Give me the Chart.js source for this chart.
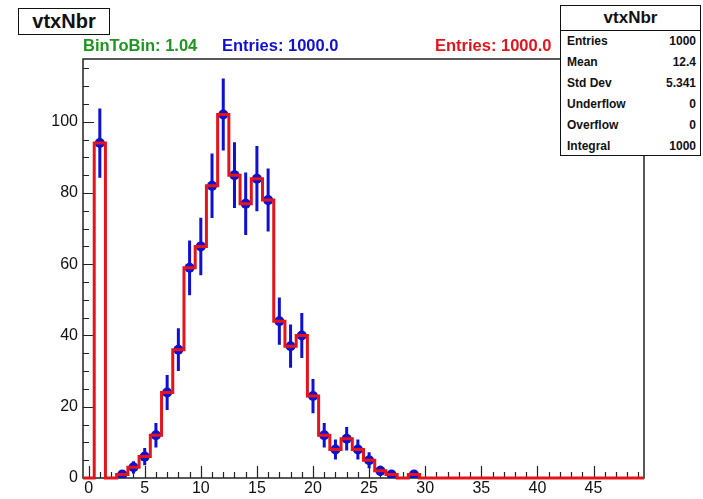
<!DOCTYPE html>
<html>
<head>
<meta charset="utf-8">
<title>vtxNbr</title>
<script src="https://cdn.jsdelivr.net/npm/chart.js@4.4.1/dist/chart.umd.min.js"></script>
<style>
  html, body { margin: 0; padding: 0; background: #fff; }
  #wrap { position: relative; width: 703px; height: 499px; font-family: "Liberation Sans", Arial, sans-serif; color: #111; }
  #chart { position: absolute; left: 0; top: 0; }
  .lbl { position: absolute; top: 37px; font-weight: bold; font-size: 16.5px; line-height: 17px; white-space: nowrap; }
  #title { position: absolute; left: 18px; top: 8px; width: 90px; height: 25px; border: 1.5px solid #111; background: #fff;
           font-weight: bold; font-size: 20px; line-height: 25px; text-align: center; }
  #stats { position: absolute; left: 560px; top: 5px; width: 139px; height: 149px; border: 1.5px solid #111; background: #fff; }
  #stats .head { height: 24px; line-height: 24px; text-align: center; font-weight: bold; font-size: 17px; border-bottom: 1px solid #111; }
  #stats .row { height: 21px; line-height: 21px; font-weight: bold; font-size: 12px; display: flex; justify-content: space-between; padding: 0 4px 0 6px; }
</style>
</head>
<body>
<div id="wrap">
  <canvas id="chart" width="703" height="499"></canvas>
  <div id="title">vtxNbr</div>
  <div class="lbl" style="left:83px;color:#1f961f">BinToBin: 1.04</div>
  <div class="lbl" style="left:222px;color:#1010d0">Entries: 1000.0</div>
  <div class="lbl" style="left:435px;color:#e3141c">Entries: 1000.0</div>
  <div id="stats">
    <div class="head">vtxNbr</div>
    <div class="row"><span>Entries</span><span>1000</span></div>
    <div class="row"><span>Mean</span><span>12.4</span></div>
    <div class="row"><span>Std Dev</span><span>5.341</span></div>
    <div class="row"><span>Underflow</span><span>0</span></div>
    <div class="row"><span>Overflow</span><span>0</span></div>
    <div class="row"><span>Integral</span><span>1000</span></div>
  </div>
</div>
<script>
// histogram bins (centers) and counts
const binCenters = [0, 1, 2, 3, 4, 5, 6, 7, 8, 9, 10, 11, 12, 13, 14, 15, 16, 17, 18, 19,
                    20, 21, 22, 23, 24, 25, 26, 27, 28, 29, 30, 31, 32, 33, 34, 35, 36, 37, 38, 39,
                    40, 41, 42, 43, 44, 45, 46, 47, 48, 49];
const counts = [0, 94, 0, 1, 3, 6, 12, 24, 36, 59, 65, 82, 102, 85, 77, 84, 78, 44, 37, 40,
                23, 12, 8, 11, 8, 5, 2, 1, 0, 1, 0, 0, 0, 0, 0, 0, 0, 0, 0, 0,
                0, 0, 0, 0, 0, 0, 0, 0, 0, 0];
const xTicks = [0, 5, 10, 15, 20, 25, 30, 35, 40, 45];
const yTicks = [0, 20, 40, 60, 80, 100];

const RED = "#e3141c";
const BLUE = "#1010d0";
const FONT = "'Liberation Sans', Arial, sans-serif";

// step outline: left edge of every bin, plus the last right edge
const histLine = binCenters.map((c, i) => ({ x: c - 0.5, y: counts[i] }));
histLine.push({ x: binCenters[binCenters.length - 1] + 0.5, y: counts[counts.length - 1] });

// markers only for filled bins
const markers = [];
binCenters.forEach((c, i) => { if (counts[i] > 0) markers.push({ x: c, y: counts[i] }); });

// frame, inward ticks and error bars
const framePlugin = {
  id: "frame",
  beforeDatasetsDraw(chart) {
    const { ctx, chartArea: a, scales: { x, y } } = chart;
    ctx.save();
    ctx.strokeStyle = "#222";
    ctx.lineWidth = 1.5;
    ctx.strokeRect(a.left, a.top, a.right - a.left, a.bottom - a.top);

    ctx.lineWidth = 1.2;
    ctx.beginPath();
    binCenters.forEach(c => {
      const px = Math.round(x.getPixelForValue(c)) + 0.5;
      const len = xTicks.includes(c) ? 12 : 6;
      ctx.moveTo(px, a.bottom);
      ctx.lineTo(px, a.bottom - len);
    });
    for (let v = 0; v <= 115; v += 5) {
      const py = Math.round(y.getPixelForValue(v)) + 0.5;
      const len = yTicks.includes(v) ? 11 : 6;
      ctx.moveTo(a.left, py);
      ctx.lineTo(a.left + len, py);
    }
    ctx.stroke();

    // sqrt(N) error bars
    ctx.strokeStyle = BLUE;
    ctx.lineWidth = 3;
    ctx.beginPath();
    markers.forEach(p => {
      const e = Math.sqrt(p.y);
      const px = x.getPixelForValue(p.x);
      ctx.moveTo(px, y.getPixelForValue(p.y - e));
      ctx.lineTo(px, y.getPixelForValue(p.y + e));
    });
    ctx.stroke();
    ctx.restore();
  }
};

new Chart(document.getElementById("chart"), {
  type: "scatter",
  data: {
    datasets: [
      {
        type: "line",
        data: histLine,
        stepped: true,
        borderColor: RED,
        borderWidth: 3,
        pointRadius: 0,
        fill: false,
        clip: 5
      },
      {
        type: "scatter",
        data: markers,
        pointRadius: 5,
        pointBackgroundColor: BLUE,
        pointBorderWidth: 0
      }
    ]
  },
  options: {
    responsive: false,
    animation: false,
    events: [],
    layout: { padding: { left: 0, top: 59, right: 59, bottom: 0 } },
    plugins: { legend: { display: false }, tooltip: { enabled: false } },
    scales: {
      x: {
        type: "linear",
        min: -0.5,
        max: 49.5,
        grid: { display: false, drawTicks: false },
        border: { display: false },
        afterBuildTicks: s => { s.ticks = xTicks.map(v => ({ value: v })); },
        afterFit: s => { s.height = 21; },
        ticks: { autoSkip: false, maxRotation: 0, padding: 1, color: "#111", font: { family: FONT, size: 16 } }
      },
      y: {
        min: 0,
        max: 117.6,
        grid: { display: false, drawTicks: false },
        border: { display: false },
        afterBuildTicks: s => { s.ticks = yTicks.map(v => ({ value: v })); },
        afterFit: s => { s.width = 83; },
        ticks: { padding: 5, color: "#111", font: { family: FONT, size: 16 } }
      }
    }
  },
  plugins: [framePlugin]
});
</script>
</body>
</html>
